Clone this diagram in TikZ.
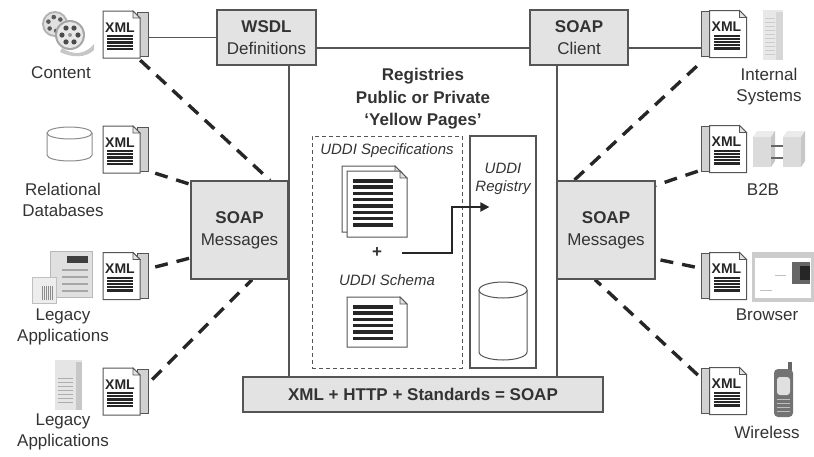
\documentclass[tikz,border=0pt]{standalone}
\usepackage{fontspec}
\setmainfont{Liberation Sans}
\usetikzlibrary{calc,arrows.meta,backgrounds}
\definecolor{ink}{HTML}{333333}
\definecolor{rim}{HTML}{555555}
\definecolor{panel}{HTML}{E3E3E3}
\begin{document}
\begin{tikzpicture}[x=1pt,y=-1pt,
  txt/.style={text=ink,font=\fontsize{17}{21}\selectfont,inner sep=0pt,align=center},
  ital/.style={text=ink,font=\itshape\fontsize{15}{18}\selectfont,inner sep=0pt,align=center},
  panelbox/.style={draw=rim,line width=1.3pt,fill=panel,text=ink,
    font=\fontsize{17}{22}\selectfont,align=center,inner sep=0pt},
  wire/.style={draw=rim,line width=1.5pt},
  link/.style={draw=black!85,line width=3.4pt,dash pattern=on 13pt off 9pt},
  flow/.style={draw=black!85,line width=2pt,-{Triangle[length=9pt,width=9pt]}},
  % XML document with its back sheet on side #1 (1 = right, -1 = left)
  pics/xmldoc/.style={code={
    \draw[rim,line width=0.8pt,fill=black!18] (#1*16,-22.5) rectangle (#1*27,22);
    \draw[rim,line width=1pt,fill=white] (-18.5,-23.5) -- (11.5,-23.5) -- (18.5,-16.5)
      -- (18.5,23.5) -- (-18.5,23.5) -- cycle;
    \draw[rim,line width=0.8pt,fill=black!10] (11.5,-23.5) -- (11.5,-16.5) -- (18.5,-16.5) -- cycle;
    \node[inner sep=0pt,anchor=base,text=black!85,
      font=\bfseries\fontsize{14}{14}\selectfont] at (-1.5,-2.5) {XML};
    \foreach \k in {0,...,4}
      \fill[black!85] (-14.5,0.5+3.2*\k) rectangle (11.5,2.7+3.2*\k);
    \node[inner sep=0pt,minimum width=37pt,minimum height=47pt] (-box) at (0,0) {};
  }},
  % striped specification sheet, origin at its top left corner
  pics/sheet/.style n args={2}{code={
    \draw[rim,line width=1pt,fill=white] (0,0) -- (53,0) -- (60,7) -- (60,#1) -- (0,#1) -- cycle;
    \draw[rim,line width=0.8pt,fill=black!12] (53,0) -- (53,7) -- (60,7) -- cycle;
    \foreach \k in {1,...,#2}
      \fill[black!85] (6,1.7+6.3*\k) rectangle (46,5.2+6.3*\k);
  }},
]
\useasboundingbox (0,0) rectangle (814,456);

% ---------- boxes ----------
\node[panelbox,minimum width=99pt,minimum height=55pt] (wsdl) at (266.5,37.5) {\textbf{WSDL}\\Definitions};
\node[panelbox,minimum width=98pt,minimum height=55pt] (client) at (579,37.5) {\textbf{SOAP}\\Client};
\node[panelbox,minimum width=97pt,minimum height=98pt] (soapL) at (239.5,230) {\textbf{SOAP}\\Messages};
\node[panelbox,minimum width=98pt,minimum height=98pt] (soapR) at (606,230) {\textbf{SOAP}\\Messages};
\node[panelbox,minimum width=360pt,minimum height=35pt] (bar) at (423,394.5) {\textbf{XML + HTTP + Standards = SOAP}};

% ---------- registry area ----------
\node[txt,font=\bfseries\fontsize{17}{22.5}\selectfont] (title) at (423,99)
  {Registries\\Public or Private\\`Yellow Pages'};
\node[draw=rim,line width=1pt,dash pattern=on 4pt off 3pt,minimum width=150pt,minimum height=232pt] (spec) at (387,252) {};
\node[draw=rim,line width=1.2pt,minimum width=66pt,minimum height=232pt] (reg) at (503,252) {};
\node[ital] (spectxt) at (387,151) {UDDI Specifications};
\node[ital] (schematxt) at (387,280) {UDDI Schema};
\node[ital] (regtxt) at (503,179) {UDDI\\Registry};
\node[txt,inner sep=0pt] (plus) at (377,253) {\textbf{+}};

\pic (specback) at (342,166) {sheet={66}{8}};
\pic (specfront) at (347,171) {sheet={66}{8}};
\pic (schema) at (347,297) {sheet={50}{6}};

% registry store
\draw[rim,line width=1pt,fill=white] (479,290) -- (479,352) arc (180:0:24 and 8) -- (527,290);
\draw[rim,line width=1pt,fill=white] (503,290) ellipse (24 and 8);

\draw[flow] ([xshift=20pt]plus.east) -- ++(50,0) |- ([xshift=20pt,yshift=45pt]reg.west);

% ---------- XML documents ----------
\pic (d1) at (121.5,34.5) {xmldoc=1};
\pic (d2) at (121.5,149.5) {xmldoc=1};
\pic (d3) at (121.5,276) {xmldoc=1};
\pic (d4) at (121.5,391.5) {xmldoc=1};
\pic (r1) at (728,34) {xmldoc=-1};
\pic (r2) at (728,149) {xmldoc=-1};
\pic (r3) at (728,276) {xmldoc=-1};
\pic (r4) at (728,391) {xmldoc=-1};

% ---------- connectors ----------
\begin{scope}[on background layer]
  \draw[wire] (wsdl.west) -- (wsdl.west -| d1-box.east);
  \draw[wire] ([yshift=-10.5pt]wsdl.east) -- ([yshift=-10.5pt]client.west);
  \draw[wire] ([yshift=-10.5pt]client.east) -- ([yshift=-10.5pt]client.east -| r1-box.west);
  \draw[wire] ([xshift=22.5pt]wsdl.south) -- ([xshift=22.5pt]wsdl.south |- bar.north);
  \draw[wire] ([xshift=-22pt]client.south) -- ([xshift=-22pt]client.south |- bar.north);

  \draw[link] ([yshift=-2pt]d1-box.south east) -- ([xshift=30.5pt]soapL.north);
  \draw[link] ([xshift=15pt]d2-box.south east) -- ([yshift=-4pt]soapL.north west);
  \draw[link] ([xshift=15pt,yshift=9pt]d3-box.east) -- ([yshift=-28pt]soapL.west);
  \draw[link] ([xshift=12pt,yshift=12pt]d4-box.east) -- ([xshift=12.5pt]soapL.south);
  \draw[link] ([xshift=-12.5pt,yshift=-8.5pt]r1-box.south west) -- ([xshift=-32pt]soapR.north);
  \draw[link] ([xshift=-11.5pt,yshift=1.5pt]r2-box.south west) -- ([yshift=-5pt]soapR.north east);
  \draw[link] ([xshift=-14.5pt,yshift=9pt]r3-box.west) -- ([yshift=-29pt]soapR.east);
  \draw[link] ([xshift=-11.5pt,yshift=16pt]r4-box.west) -- ([xshift=-11pt]soapR.south);
\end{scope}

% ---------- icons ----------
% film reels
\fill[black!30] (55,24) circle (13);
\fill[black!12] (55,24) circle (11);
\foreach \a in {20,80,...,320} \fill[black!65] ($(55,24)+(\a:7)$) circle (2.3);
\fill[black!22] (62,48) .. controls (74,56) and (86,54) .. (94,44) -- (94,50)
  .. controls (86,58) and (72,58) .. (60,52) -- cycle;
\fill[black!35] (70,35) circle (15);
\fill[black!9] (70,35) circle (13);
\foreach \a in {0,60,...,300} \fill[black!70] ($(70,35)+(\a:8)$) circle (2.6);
\fill[black!40] (70,35) circle (2);

% database
\draw[black!45,line width=1pt,fill=white] (47,133) -- (47,155) arc (180:0:22.5 and 6) -- (92,133);
\draw[black!45,line width=1pt,fill=white] (69.5,133) ellipse (22.5 and 6);

% mainframe with terminal
\fill[black!12] (50,251) rectangle (92,297);
\draw[black!28,line width=0.6pt] (50,251) rectangle (92,297);
\fill[black!75] (67,256) rectangle (88,263);
\foreach \yy in {270,277,284,291} \draw[black!35,line width=1.2pt] (62,\yy) -- (88,\yy);
\fill[black!7] (32,277) rectangle (56,303);
\draw[black!25,line width=0.6pt] (32,277) rectangle (56,303);
\foreach \xx in {42,44,...,52} \draw[black!45,line width=0.8pt] (\xx,286) -- (\xx,300);

% tower server
\fill[black!10] (55,360) rectangle (82,410);
\fill[black!22] (76,362) rectangle (82,410);
\foreach \yy in {378,382,...,402} \draw[black!32,line width=0.8pt] (58,\yy) -- (73,\yy);

% internal server
\fill[black!9] (763,10) rectangle (783,60);
\fill[black!16] (776,12) rectangle (783,60);
\foreach \yy in {18,22,...,54} \draw[black!20,line width=0.6pt] (765,\yy) -- (775,\yy);

% B2B blocks
\foreach \bx in {753,783} {
  \fill[black!14] (\bx,137) rectangle (\bx+18,167);
  \fill[black!8] (\bx,137) -- (\bx+4,131) -- (\bx+22,131) -- (\bx+18,137) -- cycle;
  \fill[black!22] (\bx+18,137) -- (\bx+22,131) -- (\bx+22,161) -- (\bx+18,167) -- cycle;
}
\draw[black!60,line width=1.2pt] (771,146) -- (783,146) (771,158) -- (783,158);

% browser window
\fill[black!20] (752,252) rectangle (814,302);
\fill[white] (755,258) rectangle (811,298);
\fill[black!60] (792,262) rectangle (810,284);
\fill[black!85] (800,266) rectangle (810,280);
\draw[black!25,line width=0.8pt] (760,290) -- (772,290) (775,275) -- (786,275);

% mobile phone
\fill[black!60] (788,362) rectangle (792,372);
\fill[black!55,rounded corners=4pt] (774,369) rectangle (793,417);
\fill[black!12,rounded corners=3pt] (777,377) rectangle (790,395);
\foreach \yy in {399,403,...,411} \draw[black!25,line width=1pt] (777,\yy) -- (790,\yy);

% ---------- labels ----------
\node[txt] (lcontent) at (61,73) {Content};
\node[txt] (lrel) at (63,200) {Relational\\Databases};
\node[txt] (lleg1) at (63,327) {Legacy\\Applications};
\node[txt] (lleg2) at (63,432) {Legacy\\Applications};
\node[txt] (lint) at (769,87) {Internal\\Systems};
\node[txt] (lb2b) at (763,190) {B2B};
\node[txt] (lbrow) at (767,315) {Browser};
\node[txt] (lwire) at (767,432) {Wireless};
\end{tikzpicture}
\end{document}
